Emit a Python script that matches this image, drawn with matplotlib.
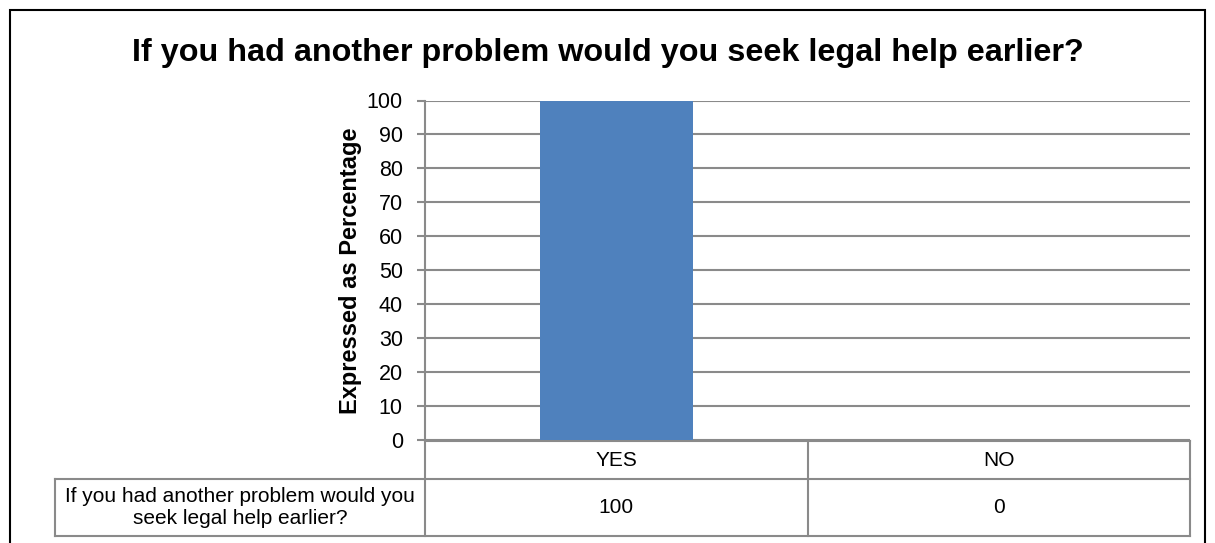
import matplotlib
matplotlib.use("Agg")
import matplotlib.pyplot as plt
from matplotlib.patches import Rectangle
from matplotlib.transforms import blended_transform_factory

plt.rcParams['font.family'] = ['Liberation Sans', 'DejaVu Sans']

title = "If you had another problem would you seek legal help earlier?"
categories = ["YES", "NO"]
values = [100, 0]
row_label = "If you had another problem would you\nseek legal help earlier?"
y_ticks = list(range(0, 101, 10))
y_label = "Expressed as Percentage"

W, H = 1215, 543
fig = plt.figure(figsize=(W / 100, H / 100), dpi=100)

# outer frame
fig.patches.append(Rectangle((10 / W, -0.05), (1205 - 10) / W, 1.05 - 10 / H,
                             transform=fig.transFigure, fill=False,
                             edgecolor='black', linewidth=1.5))

ax_l, ax_r, ax_t, ax_b = 425, 1190, 100.5, 440
ax = fig.add_axes([ax_l / W, 1 - ax_b / H, (ax_r - ax_l) / W, (ax_b - ax_t) / H])

grid_c = '#8a8a8a'
x = list(range(len(categories)))
ax.bar(x, values, width=0.4, color='#4F81BD', zorder=3)
ax.set_xlim(-0.5, len(categories) - 0.5)
ax.set_ylim(0, 100)
ax.set_yticks(y_ticks)
ax.set_yticklabels([str(t) for t in y_ticks], fontsize=15.5)
ax.set_xticks([])
ax.yaxis.grid(True, color=grid_c, linewidth=1.5, zorder=0)
ax.set_axisbelow(True)
for s in ['top', 'right', 'bottom']:
    ax.spines[s].set_visible(False)
ax.spines['left'].set_color(grid_c)
ax.spines['left'].set_linewidth(1.5)
ax.tick_params(axis='y', length=6, width=1.5, color=grid_c, pad=10)
ax.set_ylabel(y_label, fontsize=17, fontweight='bold', labelpad=3)

fig.text(0.5, 1 - 53 / H, title, ha='center', va='center',
         fontsize=23.3, fontweight='bold')

# data table under the axes
tr = blended_transform_factory(ax.transData, fig.transFigure)
def fy(p):
    return 1 - p / H

hdr_top, hdr_bot, row_bot = 441, 479, 536
xmin, xmax = ax.get_xlim()
label_left_px = 55
px_per_unit = (ax_r - ax_l) / (xmax - xmin)
label_left = xmin - (ax_l - label_left_px) / px_per_unit
lw = 1.5
line_kw = dict(color=grid_c, linewidth=lw, transform=tr, clip_on=False)

# horizontal lines
ax.plot([xmin, xmax], [fy(hdr_top)] * 2, **line_kw)
ax.plot([label_left, xmax], [fy(hdr_bot)] * 2, **line_kw)
ax.plot([label_left, xmax], [fy(row_bot)] * 2, **line_kw)
# vertical lines
ax.plot([label_left] * 2, [fy(hdr_bot), fy(row_bot)], **line_kw)
for b in [xmin + i for i in range(len(categories) + 1)]:
    ax.plot([b] * 2, [fy(hdr_top), fy(row_bot)], **line_kw)

for xi, cat, v in zip(x, categories, values):
    ax.text(xi, fy((hdr_top + hdr_bot) / 2), cat, transform=tr,
            ha='center', va='center', fontsize=15)
    ax.text(xi, fy((hdr_bot + row_bot) / 2), str(v), transform=tr,
            ha='center', va='center', fontsize=15)
ax.text((label_left + xmin) / 2, fy((hdr_bot + row_bot) / 2), row_label,
        transform=tr, ha='center', va='center', fontsize=15,
        multialignment='center', linespacing=1.2)

fig.savefig("out.png", dpi=100)
